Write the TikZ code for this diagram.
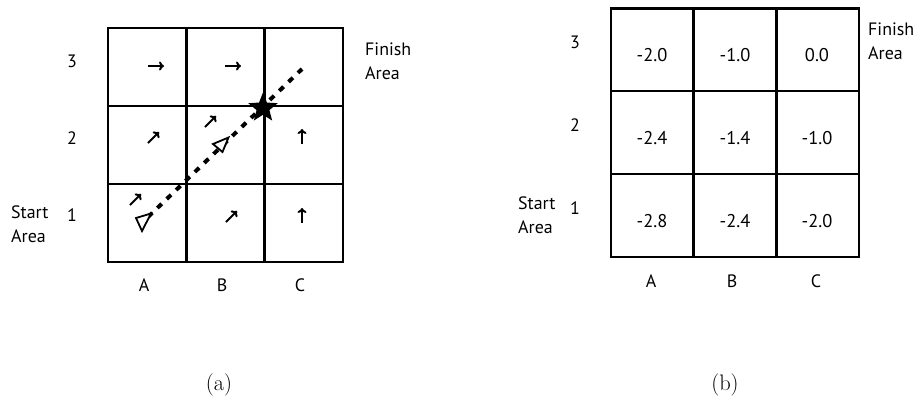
\documentclass[tikz,border=0pt]{standalone}
\usepackage{fontspec}
\newfontfamily\labelfont{PT Sans}
\usetikzlibrary{shapes.geometric,arrows.meta}
\begin{document}
\begin{tikzpicture}[x=1bp,y=-1bp,
  gridline/.style={line width=2.8bp, line cap=rect},
  lbl/.style={font=\labelfont\fontsize{18}{24}\selectfont, inner sep=0pt, align=left},
  val/.style={font=\labelfont\fontsize{18.5}{22}\selectfont, inner sep=0pt},
  captext/.style={font=\fontsize{22.5}{26}\selectfont, inner sep=0pt},
  move/.style={line width=2bp, -{To[length=5bp,width=9bp,line width=2bp]}},
  agent/.style={line width=1.8bp, fill=white, line join=miter},
  trajline/.style={line width=4bp, dash pattern=on 6bp off 7bp},
]
\useasboundingbox (0,0) rectangle (922,399);

% ---------- (a) policy grid ----------
\foreach \x in {108,186.3,264.7,343} \draw[gridline] (\x,28) -- (\x,262);
\foreach \y in {28,106,184,262} \draw[gridline] (108,\y) -- (343,\y);

\node[lbl] (ar3) at (72,61) {3};
\node[lbl] (ar2) at (72,138) {2};
\node[lbl] (ar1) at (72,215) {1};
\node[lbl] (ac1) at (144,285) {A};
\node[lbl] (ac2) at (222,285) {B};
\node[lbl] (ac3) at (300,285) {C};
\node[lbl, anchor=west] (astart) at (11,224) {Start\\Area};
\node[lbl, anchor=west] (afinish) at (365,61) {Finish\\Area};

% action arrows in each cell
\coordinate (mA3s) at (148,66);  \coordinate (mA3e) at (164,66);
\coordinate (mB3s) at (225,66);  \coordinate (mB3e) at (241,66);
\coordinate (mA2s) at (148,143); \coordinate (mA2e) at (159,132);
\coordinate (mB2s) at (205,127); \coordinate (mB2e) at (216,116);
\coordinate (mC2s) at (302,144); \coordinate (mC2e) at (302,129);
\coordinate (mA1s) at (130,205); \coordinate (mA1e) at (141,194);
\coordinate (mB1s) at (226,222); \coordinate (mB1e) at (237,211);
\coordinate (mC1s) at (302,223); \coordinate (mC1e) at (302,208);
\foreach \c in {A3,B3,A2,B2,C2,A1,B1,C1}
  \draw[move] (m\c s) -- (m\c e);

% trajectory
\coordinate (trajstart) at (148,217);
\coordinate (trajend) at (302,69);
\draw[trajline] (trajstart) -- (trajend);
\draw[agent] (136,218) -- (151,213.5) -- (142,231) -- cycle;
\draw[agent] (213,144) -- (228.5,137.5) -- (222.5,152) -- cycle;
\node[star, star points=5, star point ratio=2.3, fill=black, minimum size=31bp, inner sep=0pt] (goal) at (263,108) {};

\node[captext] (capa) at (219,385) {(a)};

% ---------- (b) value grid ----------
\foreach \x in {611,693.7,776.3,859} \draw[gridline] (\x,8.3) -- (\x,257);
\foreach \y in {8.3,91,174,257} \draw[gridline] (611,\y) -- (859,\y);

\node[lbl] (br3) at (575,42) {3};
\node[lbl] (br2) at (575,125) {2};
\node[lbl] (br1) at (575,208) {1};
\node[lbl] (bc1) at (651,281) {A};
\node[lbl] (bc2) at (732,281) {B};
\node[lbl] (bc3) at (816,281) {C};
\node[lbl, anchor=west] (bstart) at (518,215) {Start\\Area};
\node[lbl, anchor=west] (bfinish) at (868,41) {Finish\\Area};

\node[val] (vA3) at (652,55) {-2.0};
\node[val] (vB3) at (735,55) {-1.0};
\node[val] (vC3) at (817,55) {0.0};
\node[val] (vA2) at (652,138) {-2.4};
\node[val] (vB2) at (735,138) {-1.4};
\node[val] (vC2) at (817,138) {-1.0};
\node[val] (vA1) at (652,221) {-2.8};
\node[val] (vB1) at (735,221) {-2.4};
\node[val] (vC1) at (817,221) {-2.0};

\node[captext] (capb) at (725,385) {(b)};
\end{tikzpicture}
\end{document}
